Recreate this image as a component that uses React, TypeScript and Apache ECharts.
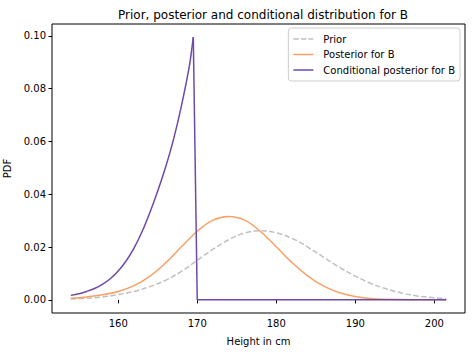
import React, { useEffect, useRef } from "react";
import * as echarts from "echarts";

const gridHeights = [154, 156, 158, 160, 162, 164, 166, 168, 170, 172, 174, 176, 178, 180, 182, 184, 186, 188, 190, 192, 194, 196, 198, 200, 201.5];
const priorValues = [0.0003, 0.0006, 0.0011, 0.0020, 0.0032, 0.0050, 0.0074, 0.0108, 0.0150, 0.0192, 0.0228, 0.0253, 0.0262, 0.0254, 0.0233, 0.0200, 0.0161, 0.0123, 0.0090, 0.0062, 0.0041, 0.0025, 0.0014, 0.0008, 0.0005];
const posteriorValues = [0.0006, 0.0011, 0.0019, 0.0032, 0.0054, 0.0089, 0.0140, 0.0201, 0.0260, 0.0302, 0.0316, 0.0302, 0.0259, 0.0201, 0.0141, 0.0090, 0.0052, 0.0027, 0.0013, 0.0005, 0.0002, 0.0001, 0.0000, 0.0000, 0.0000];
const condHeights = [154, 155, 156, 157, 158, 159, 160, 161, 162, 163, 164, 165, 166, 167, 168, 169, 169.5];
const condValues = [0.0017, 0.0023, 0.0032, 0.0043, 0.0059, 0.0080, 0.0109, 0.0147, 0.0196, 0.0257, 0.0330, 0.0412, 0.0503, 0.0608, 0.0735, 0.0885, 0.0995];
const condTailHeights = [169.5, 170, 201.5];
const condTailValues = [0.0995, 0, 0];
const xTicks = [160, 170, 180, 190, 200];
const yTicks = [0, 0.02, 0.04, 0.06, 0.08, 0.1];

const FONT = "DejaVu Sans";
const SOLID_ICON = "path://M0,0H20V1.5H0Z";
const DASH_ICON = "path://M0,0H5.5V1.5H0ZM7.5,0H13V1.5H7.5ZM15,0H20V1.5H15Z";
const PURPLE = "#6e4aa8";

export default function App() {
  const ref = useRef<HTMLDivElement>(null);
  useEffect(() => {
    if (!ref.current) return;
    const chart = echarts.init(ref.current, undefined, { renderer: "svg" });
    const zip = (xs: number[], ys: number[]) => xs.map((x, i) => [x, ys[i]]);
    chart.setOption({
      animation: false,
      backgroundColor: "#ffffff",
      title: {
        text: "Prior, posterior and conditional distribution for B",
        left: 258,
        top: 4,
        textAlign: "center",
        textStyle: { fontFamily: FONT, fontSize: 12, fontWeight: "normal", color: "#000" },
      },
      legend: {
        orient: "vertical",
        right: 12,
        top: 28,
        padding: [5, 5, 5, 5],
        itemGap: 3.5,
        itemWidth: 20,
        itemHeight: 1.5,
        borderColor: "#cccccc",
        borderWidth: 1,
        borderRadius: 3,
        backgroundColor: "rgba(255,255,255,0.8)",
        textStyle: { fontFamily: FONT, fontSize: 10, color: "#000", padding: [0, 0, 0, 5], lineHeight: 12 },
        data: [
          { name: "Prior", icon: DASH_ICON },
          { name: "Posterior for B", icon: SOLID_ICON },
          { name: "Conditional posterior for B", icon: SOLID_ICON },
        ],
      },
      grid: {
        left: 52,
        right: 7,
        top: 24,
        bottom: 39,
        show: true,
        borderColor: "#000",
        borderWidth: 1,
        backgroundColor: "transparent",
        outerBoundsMode: "none",
        containLabel: false,
      },
      xAxis: {
        type: "value",
        min: 151.625,
        max: 203.875,
        name: "Height in cm",
        nameLocation: "middle",
        nameGap: 23,
        nameTextStyle: { fontFamily: FONT, fontSize: 10, color: "#000" },
        axisLine: { show: false },
        splitLine: { show: false },
        axisTick: { show: true, length: 3.5, inside: false, customValues: xTicks, lineStyle: { color: "#000" } },
        axisLabel: { customValues: xTicks, margin: 5, fontFamily: FONT, fontSize: 10, color: "#000" },
      },
      yAxis: {
        type: "value",
        min: -0.004975,
        max: 0.104475,
        name: "PDF",
        nameLocation: "middle",
        nameGap: 40,
        nameRotate: 90,
        nameTextStyle: { fontFamily: FONT, fontSize: 10, color: "#000" },
        axisLine: { show: false },
        splitLine: { show: false },
        axisTick: { show: true, length: 3.5, inside: false, customValues: yTicks, lineStyle: { color: "#000" } },
        axisLabel: {
          customValues: yTicks,
          margin: 6,
          fontFamily: FONT,
          fontSize: 10,
          color: "#000",
          formatter: (v: number) => v.toFixed(2),
        },
      },
      series: [
        {
          name: "Prior",
          type: "line",
          data: zip(gridHeights, priorValues),
          smooth: 0.4,
          symbol: "none",
          lineStyle: { color: "#c0c0c0", width: 1.5, type: [5.55, 2.4] },
          itemStyle: { color: "#c0c0c0" },
        },
        {
          name: "Posterior for B",
          type: "line",
          data: zip(gridHeights, posteriorValues),
          smooth: 0.4,
          symbol: "none",
          lineStyle: { color: "#f9a066", width: 1.5 },
          itemStyle: { color: "#f9a066" },
        },
        {
          name: "Conditional posterior for B",
          type: "line",
          data: zip(condHeights, condValues),
          smooth: 0.3,
          symbol: "none",
          lineStyle: { color: PURPLE, width: 1.5 },
          itemStyle: { color: PURPLE },
        },
        {
          name: "Conditional posterior for B",
          type: "line",
          data: zip(condTailHeights, condTailValues),
          symbol: "none",
          lineStyle: { color: PURPLE, width: 1.5 },
          itemStyle: { color: PURPLE },
        },
      ],
    });
    return () => chart.dispose();
  }, []);
  return <div ref={ref} style={{ width: 472, height: 352, position: "absolute", left: 0, top: 0 }} />;
}
